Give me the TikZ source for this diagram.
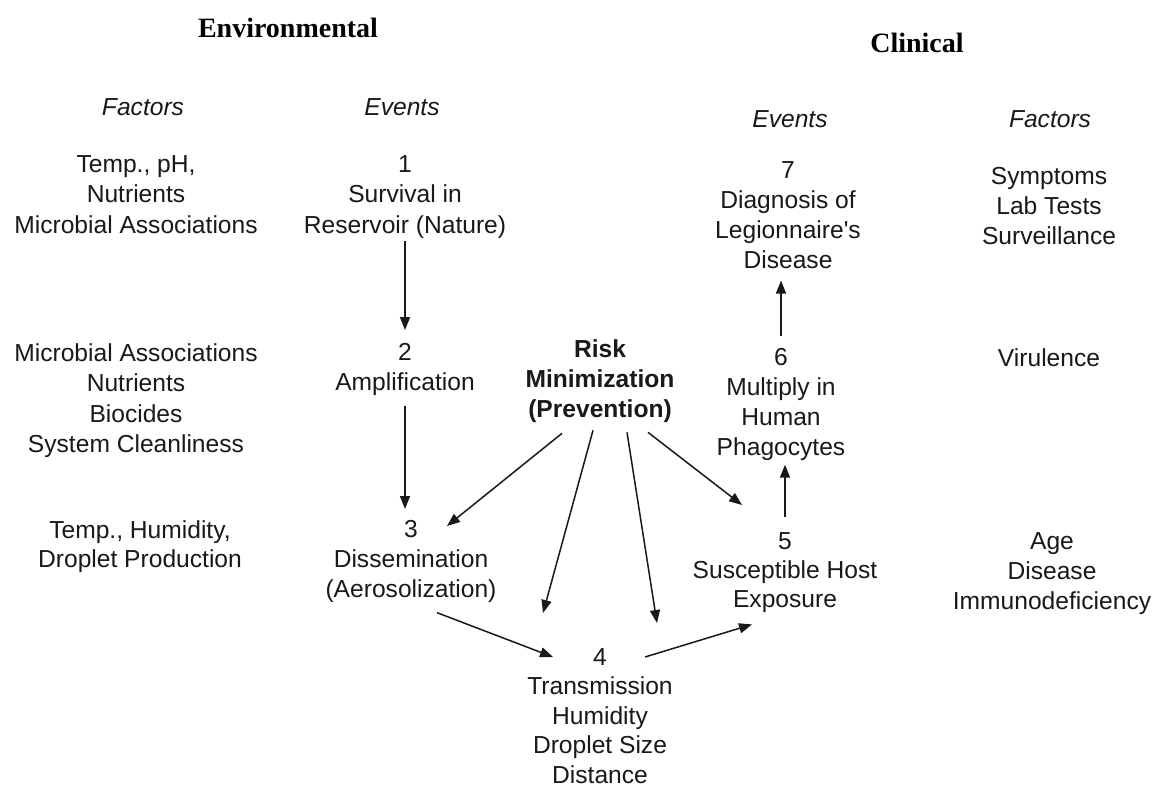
\documentclass[tikz,border=0pt]{standalone}
\usepackage{fontspec}
\setmainfont{Liberation Sans}
\newfontfamily\titlefont{Liberation Serif}
\usetikzlibrary{arrows.meta}
\begin{document}
\begin{tikzpicture}[x=1pt,y=-1pt,
  txt/.style={inner sep=0pt,align=center,anchor=north,font=\fontsize{24.6}{30.5}\selectfont,text=black!90},
  head/.style={inner sep=0pt,font=\fontsize{24.6}{30}\selectfont\itshape,text=black!90},
  title/.style={inner sep=0pt,font=\fontsize{28}{30}\selectfont\titlefont\bfseries,text=black},
  arr/.style={line width=1.5pt,black!90,-{Triangle[length=13pt,width=10pt]}}]
\useasboundingbox (0,0) rectangle (1155,787);
\fill[white] (0,0) rectangle (1155,787);
% titles
\node[title] (envT) at (288,28) {Environmental};
\node[title] (clinT) at (917,43) {Clinical};
\node[head] (facL) at (143,107) {Factors};
\node[head] (evL) at (402,107) {Events};
\node[head] (evR) at (790,119) {Events};
\node[head] (facR) at (1050,119) {Factors};
% left factors
\node[txt] (f1) at (136,155) {Temp., pH,\\Nutrients\\Microbial Associations};
\node[txt] (f2) at (136,343) {Microbial Associations\\Nutrients\\Biocides\\System Cleanliness};
\node[txt,font=\fontsize{24.6}{29}\selectfont] (f3) at (140,520) {Temp., Humidity,\\Droplet Production};
% events
\node[txt] (e1) at (405,155) {1\\Survival in\\Reservoir (Nature)};
\node[txt] (e2) at (405,343) {2\\Amplification};
\node[txt,font=\fontsize{24.6}{30}\selectfont] (e3) at (411,520) {3\\Dissemination\\(Aerosolization)};
\node[txt,font=\fontsize{24.6}{29.5}\selectfont] (e4) at (600,648) {4\\Transmission\\Humidity\\Droplet Size\\Distance};
\node[txt,font=\fontsize{24.6}{29}\selectfont] (e5) at (785,532) {5\\Susceptible Host\\Exposure};
\node[txt,font=\fontsize{24.6}{30}\selectfont] (e6) at (781,348) {6\\Multiply in\\Human\\Phagocytes};
\node[txt,font=\fontsize{24.6}{30}\selectfont] (e7) at (788,161) {7\\Diagnosis of\\Legionnaire\textquotesingle s\\Disease};
% risk
\node[txt,font=\fontsize{24.6}{30}\selectfont\bfseries] (risk) at (600,339) {Risk\\Minimization\\(Prevention)};
% right factors
\node[txt,font=\fontsize{24.6}{30}\selectfont] (r1) at (1049,167) {Symptoms\\Lab Tests\\Surveillance};
\node[txt,anchor=center] (r2) at (1049,358) {Virulence};
\node[txt,font=\fontsize{24.6}{30}\selectfont] (r3) at (1052,532) {Age\\Disease\\Immunodeficiency};
% arrows
\draw[arr,shorten <=3pt,shorten >=13pt] (e1.south) -- (e1.south |- e2.north);
\draw[arr,shorten <=10pt,shorten >=11pt] (e2.south) -- (e2.south |- e3.north);
\draw[arr] ([shift={(-38,11)}]risk.south) -- ([shift={(36,6)}]e3.north);
\draw[arr] ([shift={(-7,8)}]risk.south) -- ([shift={(-57,-35)}]e4.north);
\draw[arr] ([shift={(27,10)}]risk.south) -- ([shift={(57,-25)}]e4.north);
\draw[arr] ([shift={(48,10)}]risk.south) -- ([shift={(-43,-27)}]e5.north);
\draw[arr] ([shift={(26,10)}]e3.south) -- ([shift={(-47,9)}]e4.north);
\draw[arr] ([shift={(45,9)}]e4.north) -- ([shift={(-33,12)}]e5.south);
\draw[arr,shorten <=15pt,shorten >=4pt] (e5.north) -- (e5.north |- e6.south);
\draw[arr,shorten <=12pt,shorten >=12pt] (e6.north) -- (e6.north |- e7.south);
\end{tikzpicture}
\end{document}
